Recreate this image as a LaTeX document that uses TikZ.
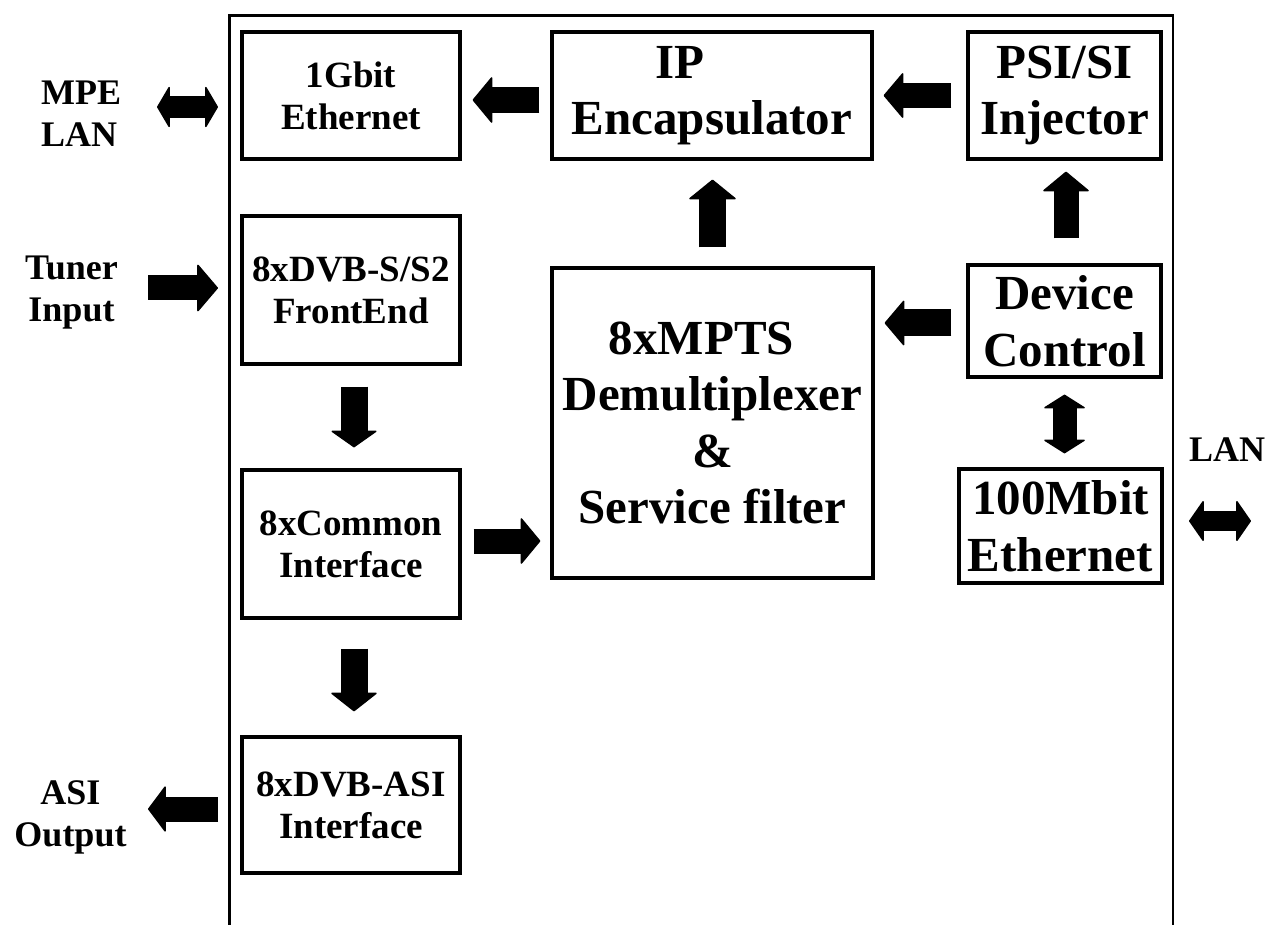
\documentclass[tikz,border=0pt]{standalone}
\usepackage{fontspec}
\setmainfont{Liberation Serif}
\usetikzlibrary{arrows.meta}

\tikzset{
  blk/.style={draw, line width=3.2pt, inner sep=0pt, align=center,
    font=\bfseries\fontsize{49}{56.5}\selectfont},
  blksmall/.style={blk, font=\bfseries\fontsize{37}{42}\selectfont},
  lbl/.style={inner sep=0pt, font=\bfseries\fontsize{36}{42}\selectfont},
  framepath/.style={draw, line width=2.8pt},
  fatarr/.style n args={3}{line width=#1,
    -{Triangle[length=#2, width=#3, round, line width=1.5pt]}},
  fatdbl/.style n args={3}{line width=#1,
    {Triangle[length=#2, width=#3, round, line width=1.5pt]}-{Triangle[length=#2, width=#3, round, line width=1.5pt]}},
}

\begin{document}
\begin{tikzpicture}[x=1pt, y=-1pt]
  \useasboundingbox (0,0) rectangle (1267,925);
  \fill[white] (0,0) rectangle (1267,925);

  % enclosure (open at the bottom)
  \coordinate (fbl) at (229.5,926);
  \coordinate (ftl) at (229.5,15.5);
  \coordinate (ftr) at (1173,15.5);
  \coordinate (fbr) at (1173,926);
  \draw[framepath] (fbl) -- (ftl) -- (ftr) -- (fbr);

  % left column
  \node[blksmall, minimum width=218pt, minimum height=127pt] (gbe) at (351,95.5) {1Gbit\\Ethernet};
  \node[blksmall, minimum width=218pt, minimum height=148pt] (fe)  at (351,290)  {8xDVB-S/S2\\FrontEnd};
  \node[blksmall, minimum width=218pt, minimum height=148pt] (ci)  at (351,544)  {8xCommon\\Interface};
  \node[blksmall, minimum width=218pt, minimum height=136pt] (asi) at (351,805)  {8xDVB-ASI\\Interface};

  % middle column
  \node[blk, minimum width=320pt, minimum height=127pt] (ip) at (712,95.5)
    {\makebox[0pt]{\kern-64pt IP}\\Encapsulator};
  \node[blk, minimum width=321pt, minimum height=310pt] (mpts) at (712.5,423)
    {\makebox[0pt]{\kern-22pt 8xMPTS}\\Demultiplexer\\\&\\Service filter};

  % right column
  \node[blk, minimum width=193pt, minimum height=127pt] (psi) at (1064.5,95.5) {PSI/SI\\Injector};
  \node[blk, minimum width=193pt, minimum height=112pt] (dev) at (1064.5,321) {Device\\Control};
  \node[blk, minimum width=203pt, minimum height=114pt] (eth) at (1060.5,526) {100Mbit\\Ethernet};

  % external labels
  \node[lbl, align=left, anchor=north west] (mpe) at (41,81) {MPE\\LAN};
  \node[lbl, align=center, anchor=north] (tuner) at (71.5,256) {Tuner\\Input};
  \node[lbl, align=center, anchor=north] (asiout) at (70.5,780) {ASI\\Output};
  \node[lbl, anchor=base west] (lan) at (1189,461) {LAN};

  % external port arrows
  \coordinate (mpeA) at (157,107);
  \coordinate (mpeB) at (218,107);
  \coordinate (tunA) at (148,288);
  \coordinate (tunB) at (218,288);
  \coordinate (asoA) at (218,809);
  \coordinate (asoB) at (148,809);
  \coordinate (lanA) at (1189,521);
  \coordinate (lanB) at (1251,521);
  \draw[fatdbl={22pt}{13pt}{44pt}] (mpeA) -- (mpeB);
  \draw[fatarr={25pt}{21pt}{49pt}] (tunA) -- (tunB);
  \draw[fatarr={25pt}{18pt}{48pt}] (asoA) -- (asoB);
  \draw[fatdbl={20pt}{15pt}{43pt}] (lanA) -- (lanB);

  % internal data paths
  \draw[fatarr={26pt}{20pt}{48pt}, shorten <=11pt, shorten >=11pt]
    ([yshift=-4.5pt]ip.west) -- ([yshift=-4.5pt]gbe.east);
  \draw[fatarr={25pt}{20pt}{47pt}, shorten <=15pt, shorten >=10pt]
    (psi.west) -- (ip.east);
  \draw[fatarr={27pt}{20pt}{49pt}, shorten <=19pt, shorten >=19pt]
    (mpts.north) -- (mpts.north |- ip.south);
  \draw[fatarr={25pt}{20pt}{48pt}, shorten <=25pt, shorten >=11pt]
    ([xshift=1.5pt]dev.north) -- ([xshift=1.5pt]psi.south);
  \draw[fatarr={27pt}{20pt}{47pt}, shorten <=15pt, shorten >=10pt]
    ([yshift=-2pt]dev.west) -- ([yshift=-2pt]dev.west -| mpts.east);
  \draw[fatdbl={24pt}{14pt}{44pt}, shorten <=16pt, shorten >=14pt]
    (dev.south) -- (dev.south |- eth.north);
  \draw[fatarr={27pt}{17pt}{48pt}, shorten <=21pt, shorten >=21pt]
    ([xshift=3pt]fe.south) -- ([xshift=3pt]ci.north);
  \draw[fatarr={27pt}{19pt}{48pt}, shorten <=29pt, shorten >=24pt]
    ([xshift=3pt]ci.south) -- ([xshift=3pt]asi.north);
  \draw[fatarr={25pt}{20pt}{48pt}, shorten <=12pt, shorten >=10pt]
    ([yshift=3pt]ci.east) -- ([yshift=3pt]ci.east -| mpts.west);
\end{tikzpicture}
\end{document}
